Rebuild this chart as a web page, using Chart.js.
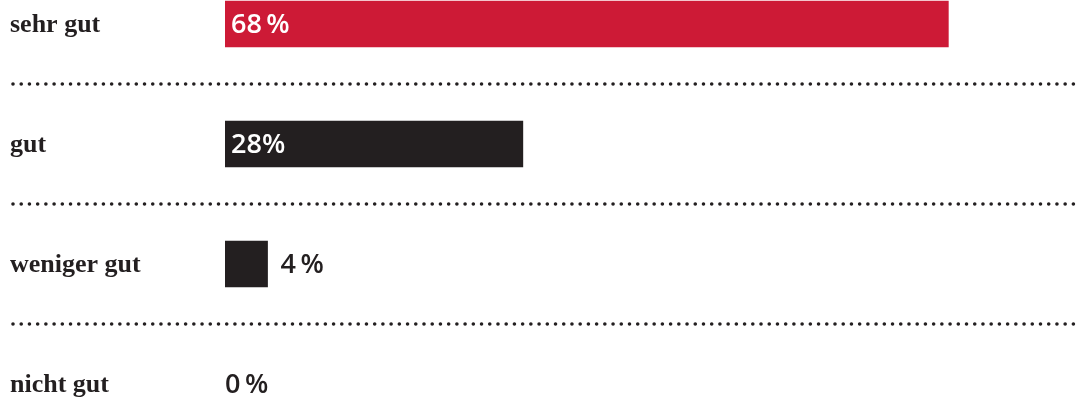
<!DOCTYPE html>
<html>
<head>
<meta charset="utf-8">
<script src="https://cdn.jsdelivr.net/npm/chart.js@4"></script>
<style>
  html, body { margin: 0; padding: 0; background: #fff; overflow: hidden; }
  #wrap { width: 1076px; height: 402px; overflow: hidden; position: relative; }
  #chart { position: absolute; left: 0; top: -36px; }
</style>
</head>
<body>
<div id="wrap">
  <canvas id="chart" width="1076" height="480"></canvas>
</div>
<script>
const categories = ['sehr gut', 'gut', 'weniger gut', 'nicht gut'];
const shares = [68, 28, 4, 0];
const shareLabels = ['68\u2009%', '28%', '4\u2009%', '0\u2009%'];
const barColors = ['#cd1a36', '#231f20', '#231f20', '#231f20'];

const ink = '#231f20';

// dotted separators between the rows
const dottedRows = {
    id: 'dottedRows',
    afterDatasetsDraw(chart) {
        const y = chart.scales.y;
        const ctx = chart.ctx;
        ctx.save();
        ctx.strokeStyle = ink;
        ctx.lineWidth = 3.6;
        ctx.lineCap = 'round';
        ctx.setLineDash([0, 8.22]);
        for (let i = 0; i < categories.length - 1; i++) {
            const py = (y.getPixelForTick(i) + y.getPixelForTick(i + 1)) / 2;
            ctx.beginPath();
            ctx.moveTo(13, py);
            ctx.lineTo(chart.width, py);
            ctx.stroke();
        }
        ctx.restore();
    }
};

// percentage labels inside or behind the bars
const shareText = {
    id: 'shareText',
    afterDatasetsDraw(chart) {
        const ctx = chart.ctx;
        const meta = chart.getDatasetMeta(0);
        ctx.save();
        ctx.font = '600 27px "Open Sans"';
        ctx.textBaseline = 'middle';
        ctx.textAlign = 'left';
        meta.data.forEach(function(bar, i) {
            const v = shares[i];
            let x, color;
            if (v >= 10) {
                x = bar.base + 6;
                color = '#fff';
            } else {
                x = bar.x + (v > 0 ? 13 : 0);
                color = ink;
            }
            ctx.fillStyle = color;
            ctx.fillText(shareLabels[i], x, bar.y + 1);
        });
        ctx.restore();
    }
};

new Chart(document.getElementById('chart'), {
    type: 'bar',
    data: {
        labels: categories,
        datasets: [{
            data: shares,
            backgroundColor: function(c) { return c.raw > 0 ? barColors[c.dataIndex] : 'rgba(0,0,0,0)'; },
            borderWidth: 0,
            barThickness: 46
        }]
    },
    options: {
        indexAxis: 'y',
        responsive: false,
        animation: false,
        devicePixelRatio: 1,
        layout: { padding: { left: 10, right: 0, top: 0, bottom: 0 } },
        plugins: {
            legend: { display: false },
            tooltip: { enabled: false }
        },
        scales: {
            x: {
                display: false,
                min: 0,
                max: 80
            },
            y: {
                grid: { display: false },
                border: { display: false },
                afterFit: function(scale) {
                    scale.width = 215;
                    scale.paddingTop = 0;
                    scale.paddingBottom = 0;
                },
                ticks: {
                    crossAlign: 'far',
                    labelOffset: 1,
                    color: ink,
                    font: { family: 'Liberation Serif', weight: 'bold', size: 26 }
                }
            }
        }
    },
    plugins: [dottedRows, shareText]
});
</script>
</body>
</html>
